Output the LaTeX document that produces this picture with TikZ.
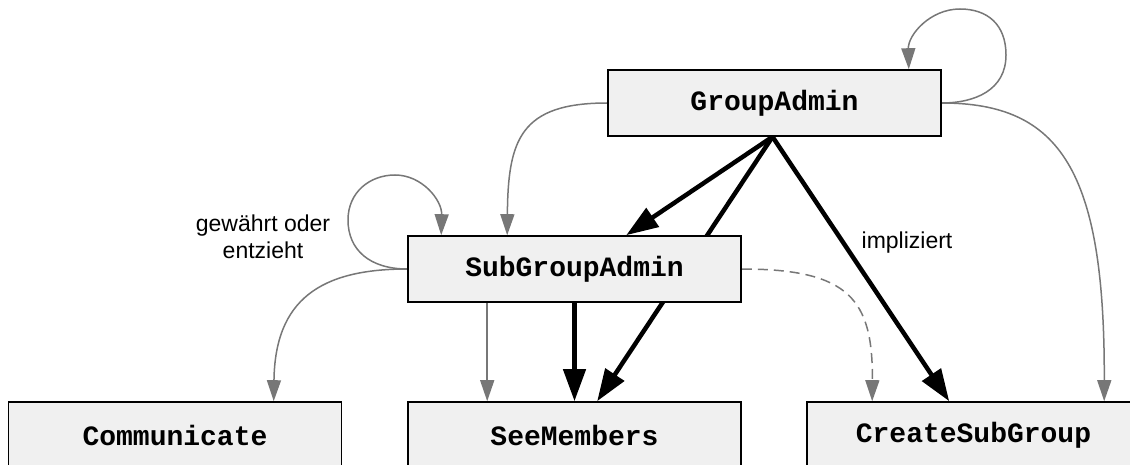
\documentclass[tikz,border=0pt]{standalone}
\usepackage{fontspec}
\setmainfont{Liberation Sans}
\setmonofont{Liberation Mono}
\usetikzlibrary{arrows.meta,calc}
\pgfdeclarelayer{edges}
\pgfsetlayers{edges,main}
\definecolor{boxfill}{HTML}{F0F0F0}
\definecolor{edgegray}{HTML}{777777}
\begin{document}
\begin{tikzpicture}[x=1pt,y=-1pt,
  perm/.style={draw=black, line width=1.6pt, fill=boxfill,
    minimum width=333pt, minimum height=66pt, inner sep=0pt,
    font=\fontsize{28}{32}\selectfont\ttfamily\bfseries},
  grant/.style={draw=edgegray, line width=1.5pt,
    -{Triangle[length=21pt,width=14pt]}, fill=none},
  grantdash/.style={grant, dash pattern=on 10pt off 6pt},
  implies/.style={draw=black, line width=4.5pt,
    -{Triangle[length=32pt,width=22pt]}},
  lbl/.style={font=\fontsize{23}{27}\selectfont, align=center, inner sep=0pt}]
\useasboundingbox (0,0) rectangle (1130,465);
\clip (0,0) rectangle (1130,465);

% permission boxes
\node[perm] (ga)  at (774.5,103) {GroupAdmin};
\node[perm] (sga) at (574.5,269) {SubGroupAdmin};
\node[perm] (com) at (175,435)   {Communicate};
\node[perm] (sm)  at (574.5,435) {SeeMembers};
\node[perm] (csg) at (973.5,435) {CreateSubGroup};

% labels
\node[lbl] (lgrant) at (263,237) {gewährt oder\\entzieht};
\node[lbl] (limpl)  at (907,243) {impliziert};

\begin{pgfonlayer}{edges}
  % GroupAdmin grants
  \draw[grant] (ga.east) .. controls (975,103) and (1006,90) .. (1006,55)
     .. controls (1006,25) and (988,9) .. (960,9)
     .. controls (930,9) and (908,35) .. ($(ga.north east)+(-33,0)$);
  \draw[grant] (ga.west) .. controls (520,103) and (508,140) .. ($(sga.north west)+(100,0)$);
  \draw[grant] (ga.east) .. controls (1060,103) and (1105,170) .. ($(csg.north west)+(298,0)$);

  % GroupAdmin implies
  \draw[implies] ($(ga.south)+(-2,0)$) -- ($(sga.north west)+(219,0)$);
  \draw[implies] ($(ga.south)+(-2,0)$) -- ($(sm.north west)+(190,0)$);
  \draw[implies] ($(ga.south)+(-2,0)$) -- ($(csg.north west)+(143,0)$);

  % SubGroupAdmin grants
  \draw[grant] (sga.west) .. controls (370,269) and (348,250) .. (348,220)
     .. controls (348,192) and (370,175) .. (395,175)
     .. controls (422,175) and (442,200) .. ($(sga.north west)+(34,0)$);
  \draw[grant] (sga.west) .. controls (320,269) and (275,300) .. ($(com.north west)+(266,0)$);
  \draw[grant] ($(sga.south west)+(80,0)$) -- ($(sm.north west)+(80,0)$);
  \draw[grantdash] (sga.east) .. controls (850,269) and (873,300) .. ($(csg.north west)+(66,0)$);

  % SubGroupAdmin implies
  \draw[implies] (sga.south) -- (sm.north);
\end{pgfonlayer}
\end{tikzpicture}
\end{document}
